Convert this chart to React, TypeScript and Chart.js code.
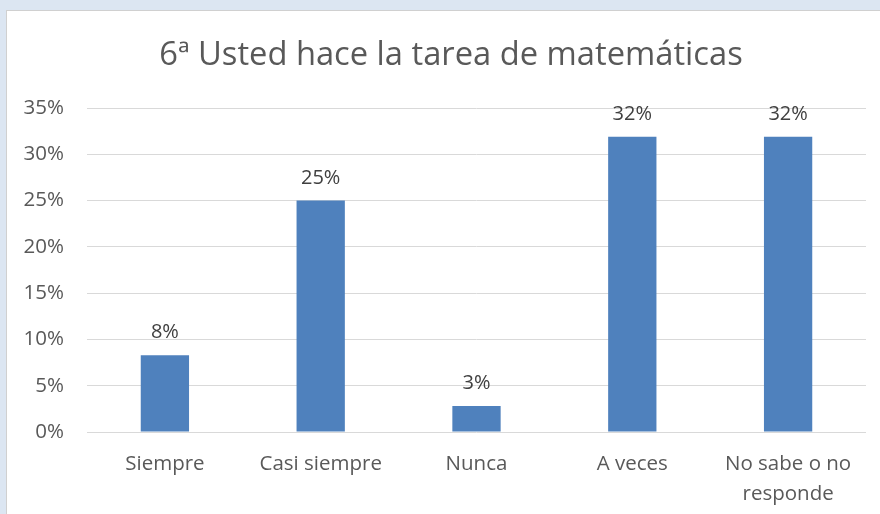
import React, { useEffect, useRef } from "react";
import { Chart, registerables } from "chart.js";

Chart.register(...registerables);

const TITLE = "6ª Usted hace la tarea de matemáticas";
const categories: (string | string[])[] = ["Siempre", "Casi siempre", "Nunca", "A veces", ["No sabe o no", "responde"]];
const values = [8.3, 25, 2.8, 31.9, 31.9];
const valueLabels = ["8%", "25%", "3%", "32%", "32%"];
const yTicks = [0, 5, 10, 15, 20, 25, 30, 35];

const FONT = "'Open Sans', sans-serif";

const dataLabelPlugin = {
  id: "dataLabels",
  afterDatasetsDraw(chart: any) {
    const ctx = chart.ctx;
    const meta = chart.getDatasetMeta(0);
    ctx.save();
    ctx.fillStyle = "#404040";
    ctx.font = `20px ${FONT}`;
    ctx.textAlign = "center";
    ctx.textBaseline = "alphabetic";
    meta.data.forEach((bar: any, i: number) => {
      ctx.fillText(valueLabels[i], bar.x, bar.y - 17);
    });
    ctx.restore();
  },
};

// Title centred on the full chart object (which extends slightly past the frame)
const titlePlugin = {
  id: "offsetTitle",
  afterDraw(chart: any) {
    const ctx = chart.ctx;
    ctx.save();
    ctx.fillStyle = "#595959";
    ctx.font = `32.7px ${FONT}`;
    ctx.textAlign = "center";
    ctx.textBaseline = "middle";
    ctx.fillText(TITLE, 444, 44.6);
    ctx.restore();
  },
};

export default function App() {
  const ref = useRef<HTMLCanvasElement>(null);
  useEffect(() => {
    document.body.style.margin = "0";
    const chart = new Chart(ref.current!, {
      type: "bar",
      data: {
        labels: categories,
        datasets: [
          {
            data: values,
            backgroundColor: "#4f81bd",
            borderWidth: 0,
            categoryPercentage: 1,
            barPercentage: 0.31,
          },
        ],
      },
      options: {
        animation: false,
        responsive: false,
        maintainAspectRatio: false,
        layout: { padding: { top: 97, right: 14, bottom: 0, left: 0 } },
        plugins: {
          legend: { display: false },
          tooltip: { enabled: false },
          title: { display: false },
        },
        scales: {
          x: {
            afterFit: (s: any) => {
              s.height = 82;
            },
            grid: { display: false },
            border: { display: false },
            ticks: {
              color: "#595959",
              font: { family: FONT, size: 20.5, lineHeight: 1.42 },
              padding: 10,
              maxRotation: 0,
              autoSkip: false,
            },
          },
          y: {
            min: 0,
            max: 35,
            afterBuildTicks: (s: any) => {
              s.ticks = yTicks.map((v) => ({ value: v }));
            },
            afterFit: (s: any) => {
              s.width = 80;
            },
            grid: { color: "#d9d9d9", lineWidth: 1, drawTicks: false },
            border: { display: false },
            ticks: {
              color: "#595959",
              font: { family: FONT, size: 20.5 },
              padding: 23,
              callback: (v: any) => `${v}%`,
            },
          },
        },
      },
      plugins: [dataLabelPlugin, titlePlugin],
    });
    return () => chart.destroy();
  }, []);

  return (
    <div style={{ position: "fixed", left: 0, top: 0, width: 880, height: 514, background: "#dce6f2", overflow: "hidden" }}>
      <div
        style={{
          position: "absolute",
          left: 6,
          top: 10,
          width: 900,
          height: 510,
          background: "#ffffff",
          borderTop: "1px solid #d0d0d0",
          borderLeft: "1px solid #d0d0d0",
        }}
      >
        <canvas ref={ref} width={873} height={503} style={{ display: "block" }} />
      </div>
    </div>
  );
}
